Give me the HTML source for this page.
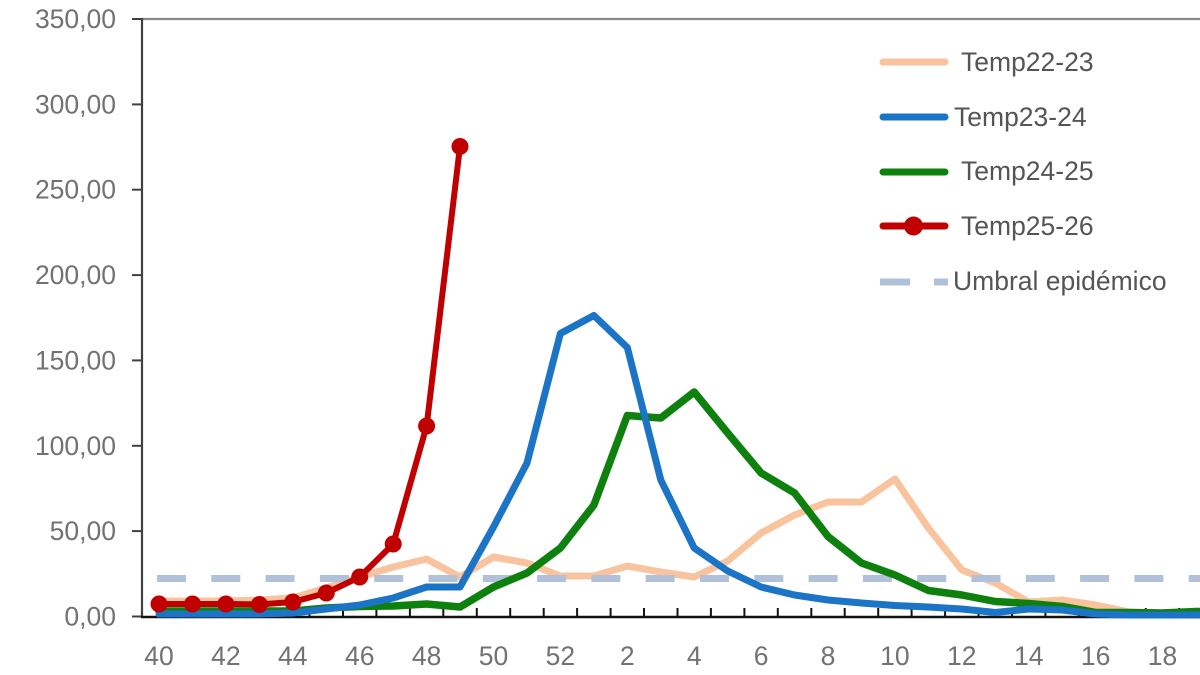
<!DOCTYPE html>
<html><head><meta charset="utf-8"><style>
html,body{margin:0;padding:0;background:#fff;}
svg{display:block;}
text{font-family:"Liberation Sans",sans-serif;}
</style></head><body>
<svg width="1200" height="675" viewBox="0 0 1200 675" xmlns="http://www.w3.org/2000/svg">
<rect width="1200" height="675" fill="#fff"/>
<!-- top border -->
<line x1="141" y1="19" x2="1200" y2="19" stroke="#8a8a8a" stroke-width="2.2"/>
<!-- y axis -->
<line x1="142" y1="18" x2="142" y2="618" stroke="#404040" stroke-width="2.2"/>
<g stroke="#404040" stroke-width="2">
<line x1="132" y1="19" x2="142" y2="19"/>
<line x1="132" y1="104.4" x2="142" y2="104.4"/>
<line x1="132" y1="189.7" x2="142" y2="189.7"/>
<line x1="132" y1="275.1" x2="142" y2="275.1"/>
<line x1="132" y1="360.4" x2="142" y2="360.4"/>
<line x1="132" y1="445.8" x2="142" y2="445.8"/>
<line x1="132" y1="531.1" x2="142" y2="531.1"/>
<line x1="132" y1="616.5" x2="142" y2="616.5"/>
</g>
<g font-size="26.5" fill="#727272" text-anchor="end">
<text x="116" y="28">350,00</text>
<text x="116" y="113.4">300,00</text>
<text x="116" y="198.7">250,00</text>
<text x="116" y="284.1">200,00</text>
<text x="116" y="369.4">150,00</text>
<text x="116" y="454.8">100,00</text>
<text x="116" y="540.1">50,00</text>
<text x="116" y="625.5">0,00</text>
</g>
<!-- x axis -->
<line x1="141" y1="617" x2="1200" y2="617" stroke="#111" stroke-width="2.4"/>
<g font-size="26.5" fill="#727272" text-anchor="middle">
<text x="159" y="665">40</text>
<text x="225.9" y="665">42</text>
<text x="292.8" y="665">44</text>
<text x="359.7" y="665">46</text>
<text x="426.6" y="665">48</text>
<text x="493.5" y="665">50</text>
<text x="560.4" y="665">52</text>
<text x="627.3" y="665">2</text>
<text x="694.2" y="665">4</text>
<text x="761.1" y="665">6</text>
<text x="828" y="665">8</text>
<text x="894.9" y="665">10</text>
<text x="961.8" y="665">12</text>
<text x="1028.7" y="665">14</text>
<text x="1095.6" y="665">16</text>
<text x="1162.5" y="665">18</text>
</g>
<g stroke="#111" stroke-width="2">
<line x1="175.7" y1="608" x2="175.7" y2="617"/><line x1="209.2" y1="608" x2="209.2" y2="617"/><line x1="242.6" y1="608" x2="242.6" y2="617"/><line x1="276.1" y1="608" x2="276.1" y2="617"/><line x1="309.5" y1="608" x2="309.5" y2="617"/><line x1="343" y1="608" x2="343" y2="617"/><line x1="376.4" y1="608" x2="376.4" y2="617"/><line x1="409.9" y1="608" x2="409.9" y2="617"/><line x1="443.3" y1="608" x2="443.3" y2="617"/><line x1="476.8" y1="608" x2="476.8" y2="617"/><line x1="510.2" y1="608" x2="510.2" y2="617"/><line x1="543.7" y1="608" x2="543.7" y2="617"/><line x1="577.1" y1="608" x2="577.1" y2="617"/><line x1="610.6" y1="608" x2="610.6" y2="617"/><line x1="644" y1="608" x2="644" y2="617"/><line x1="677.5" y1="608" x2="677.5" y2="617"/><line x1="710.9" y1="608" x2="710.9" y2="617"/><line x1="744.4" y1="608" x2="744.4" y2="617"/><line x1="777.8" y1="608" x2="777.8" y2="617"/><line x1="811.3" y1="608" x2="811.3" y2="617"/><line x1="844.7" y1="608" x2="844.7" y2="617"/><line x1="878.2" y1="608" x2="878.2" y2="617"/><line x1="911.6" y1="608" x2="911.6" y2="617"/><line x1="945.1" y1="608" x2="945.1" y2="617"/><line x1="978.5" y1="608" x2="978.5" y2="617"/><line x1="1012" y1="608" x2="1012" y2="617"/><line x1="1045.4" y1="608" x2="1045.4" y2="617"/><line x1="1078.9" y1="608" x2="1078.9" y2="617"/><line x1="1112.3" y1="608" x2="1112.3" y2="617"/><line x1="1145.8" y1="608" x2="1145.8" y2="617"/><line x1="1179.2" y1="608" x2="1179.2" y2="617"/>
</g>
<g fill="none" stroke-linejoin="round" stroke-linecap="round">
<!-- Temp22-23 -->
<polyline stroke="#f8c39d" stroke-width="7" points="159,601 192.5,601 225.9,601 259.4,600 292.8,598 326.3,588 359.7,577 393.2,567 426.6,559 460,577 493.5,557 527,563 560.4,576 593.9,576 627.3,566 660.8,572 694.2,577 727.7,561 761.1,533 794.6,515 828,502 861.5,502 894.9,479 928.4,528 961.8,570 995.3,583 1028.7,602 1062.2,600 1095.6,605 1129.1,612 1162.5,613 1196,613 1229.5,613"/>
<!-- threshold -->
<line x1="157" y1="578.5" x2="1200" y2="578.5" stroke="#b1c1d9" stroke-width="7" stroke-linecap="butt" stroke-dasharray="29 25.3"/>
<!-- Temp24-25 -->
<polyline stroke="#0e800e" stroke-width="7.5" points="159,611 192.5,611 225.9,611 259.4,611 292.8,611 326.3,608 359.7,606.5 393.2,606 426.6,604 460,607 493.5,587 527,573 560.4,548 593.9,505 627.3,415.5 660.8,418 694.2,392 727.7,433 761.1,473 794.6,493 828,536.5 861.5,563 894.9,575 928.4,590.5 961.8,595 995.3,601.5 1028.7,603.5 1062.2,606.5 1095.6,612.5 1129.1,612.5 1162.5,613 1196,611.5 1229.5,611"/>
<!-- Temp23-24 -->
<polyline stroke="#1b74c5" stroke-width="7" points="159,614 192.5,614 225.9,614 259.4,614 292.8,613 326.3,609 359.7,605 393.2,598 426.6,587 460,587 493.5,527 527,463 560.4,333.5 593.9,315.5 627.3,347.5 660.8,480 694.2,548 727.7,571 761.1,587 794.6,595 828,600 861.5,603 894.9,605.5 928.4,607 961.8,609 995.3,612.5 1028.7,609 1062.2,610 1095.6,614 1129.1,615 1162.5,615 1196,615 1229.5,615"/>
<!-- Temp25-26 -->
<polyline stroke="#c00000" stroke-width="6" points="159,604 192.5,604 225.9,604 259.4,604.5 292.8,602 326.3,593 359.7,577 393.2,544 426.6,426 460,146.5"/>
</g>
<g fill="#c00000">
<circle cx="159" cy="604" r="8.5"/><circle cx="192.5" cy="604" r="8.5"/><circle cx="225.9" cy="604" r="8.5"/><circle cx="259.4" cy="604.5" r="8.5"/><circle cx="292.8" cy="602" r="8.5"/><circle cx="326.3" cy="593" r="8.5"/><circle cx="359.7" cy="577" r="8.5"/><circle cx="393.2" cy="544" r="8.5"/><circle cx="426.6" cy="426" r="8.5"/><circle cx="460" cy="146.5" r="8.5"/>
</g>
<!-- legend -->
<g stroke-linecap="round" stroke-width="7">
<line x1="883" y1="62" x2="945" y2="62" stroke="#f8c39d"/>
<line x1="883" y1="117" x2="945" y2="117" stroke="#1b74c5"/>
<line x1="883" y1="172" x2="945" y2="172" stroke="#0e800e"/>
<line x1="883" y1="226" x2="945" y2="226" stroke="#c00000"/>
</g>
<circle cx="913.5" cy="226" r="9.5" fill="#c00000"/>
<g stroke="#b1c1d9" stroke-width="7" stroke-linecap="butt">
<line x1="880" y1="282" x2="910" y2="282"/>
<line x1="934" y1="282" x2="948" y2="282"/>
</g>
<g font-size="26.5" fill="#555">
<text x="961" y="71">Temp22-23</text>
<text x="954" y="126">Temp23-24</text>
<text x="961" y="180">Temp24-25</text>
<text x="961" y="235">Temp25-26</text>
<text x="953" y="290">Umbral epidémico</text>
</g>
</svg>
</body></html>
